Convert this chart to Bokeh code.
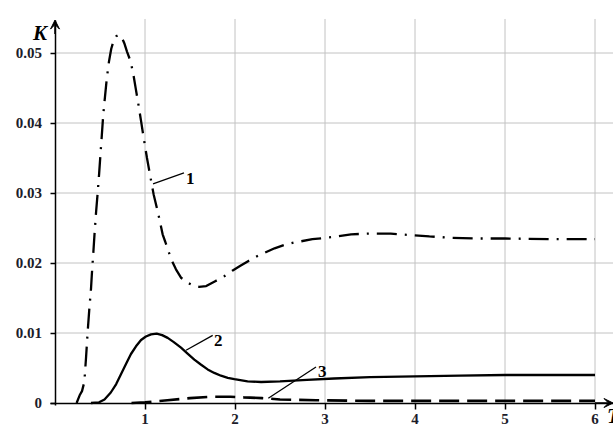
from bokeh.plotting import figure
from bokeh.models import Range1d, FixedTicker, Arrow, VeeHead, Label
from bokeh.embed import file_html
from bokeh.resources import INLINE

# ---- data ----
t1 = [0.24, 0.274, 0.30, 0.326, 0.345, 0.363, 0.38, 0.40, 0.41, 0.426, 0.44, 0.456, 0.474,
      0.49, 0.505, 0.52, 0.535, 0.555, 0.575, 0.60, 0.625, 0.65, 0.68, 0.71, 0.74, 0.77,
      0.80, 0.84, 0.87, 0.90, 0.93, 0.956, 0.985, 1.022, 1.06, 1.096, 1.148, 1.196, 1.226,
      1.26, 1.30, 1.344, 1.40, 1.485, 1.55, 1.60, 1.68, 1.78, 1.88, 1.97, 2.06, 2.15, 2.25,
      2.44, 2.55, 2.65, 2.86, 3.08, 3.29, 3.5, 3.73, 3.94, 4.16, 4.4, 4.7, 5.0, 5.5, 6.0]
k1 = [0.0, 0.0011, 0.0017, 0.0030, 0.0065, 0.0102, 0.0132, 0.0163, 0.0185, 0.0215, 0.0243,
      0.0272, 0.0300, 0.0327, 0.0355, 0.0382, 0.0410, 0.0437, 0.0463, 0.0488, 0.0506, 0.0517,
      0.0524, 0.0526, 0.0523, 0.0514, 0.0502, 0.0488, 0.0470, 0.0447, 0.0424, 0.0403, 0.0379,
      0.0350, 0.0323, 0.0298, 0.0270, 0.0241, 0.0230, 0.0217, 0.0203, 0.0191, 0.0179, 0.0171,
      0.0167, 0.0166, 0.0167, 0.0174, 0.0181, 0.0189, 0.0196, 0.0203, 0.0210, 0.0221, 0.0226,
      0.0229, 0.0234, 0.0237, 0.0241, 0.0242, 0.0242, 0.0240, 0.0238, 0.0236, 0.0235, 0.0235,
      0.0234, 0.0234]

t2 = [0.40, 0.49, 0.55, 0.62, 0.68, 0.733, 0.79, 0.844, 0.90, 0.956, 1.01, 1.067, 1.13, 1.19,
      1.252, 1.32, 1.40, 1.47, 1.548, 1.62, 1.696, 1.77, 1.844, 1.92, 1.993, 2.14, 2.29, 2.5,
      2.8, 3.1, 3.5, 4.0, 4.5, 5.0, 5.5, 6.0]
k2 = [0.0, 0.0001, 0.0005, 0.0015, 0.0027, 0.0041, 0.0056, 0.0070, 0.0081, 0.0090, 0.0095,
      0.0098, 0.0099, 0.0097, 0.0093, 0.0087, 0.0079, 0.0071, 0.0062, 0.0055, 0.0048, 0.0043,
      0.0039, 0.0036, 0.0034, 0.0031, 0.0030, 0.0031, 0.0033, 0.0035, 0.0037, 0.0038, 0.0039,
      0.0040, 0.0040, 0.0040]

t3 = [0.85, 1.0, 1.25, 1.5, 1.75, 1.95, 2.1, 2.3, 2.5, 2.9, 3.5, 4.0, 5.0, 6.0]
k3 = [0.0, 0.0001, 0.0004, 0.0007, 0.0009, 0.0009, 0.0008, 0.0007, 0.0005, 0.0004, 0.0003,
      0.0003, 0.0003, 0.0003]

x_ticks = [1, 2, 3, 4, 5, 6]
y_ticks = [0, 0.01, 0.02, 0.03, 0.04, 0.05]
y_tick_labels = ["0", "0.01", "0.02", "0.03", "0.04", "0.05"]

curve_names = ["1", "2", "3"]
name_x = [1.456, 1.767, 2.922]
name_y = [0.03214, 0.00886, 0.00457]
leader_x0 = [1.089, 1.456, 2.370]
leader_y0 = [0.03129, 0.00753, 0.00067]
leader_x1 = [1.433, 1.752, 2.900]
leader_y1 = [0.03286, 0.00967, 0.00514]

# plotted region of the chart (data units)
X_END = 6.2        # end of the T axis (arrow tip)
Y_TOP = 0.05486    # top of the grid / K axis
Y_ARROW = 0.0547

W, H = 613, 424
PX_X = 90.0        # pixels per unit of T
PX_Y = 7000.0      # pixels per unit of K
X0_PX, Y0_PX = 54.5, 402.5   # position of the origin on the canvas

SERIF = "Liberation Serif"
TICK_COLOR = "#1c1c2a"
GRID_COLOR = "#c2c2c2"

p = figure(width=W, height=H, output_backend="svg", toolbar_location=None,
           x_range=Range1d(-X0_PX / PX_X, (W - X0_PX) / PX_X),
           y_range=Range1d((Y0_PX - H) / PX_Y, Y0_PX / PX_Y),
           min_border_left=0, min_border_right=0, min_border_top=0, min_border_bottom=0)
p.outline_line_color = None
p.background_fill_color = "white"
p.border_fill_color = "white"
p.xgrid.visible = False
p.ygrid.visible = False

# grid (drawn only inside the quadrant, like the reference)
p.segment(x0=x_ticks, y0=[0] * len(x_ticks), x1=x_ticks, y1=[Y_TOP] * len(x_ticks),
          line_color=GRID_COLOR, line_width=1)
p.segment(x0=[0] * (len(y_ticks) - 1), y0=y_ticks[1:], x1=[X_END + 0.02] * (len(y_ticks) - 1),
          y1=y_ticks[1:], line_color=GRID_COLOR, line_width=1)

# axes crossing at the origin
xa = p.xaxis[0]
xa.fixed_location = 0
xa.bounds = (-0.05, X_END)
xa.ticker = FixedTicker(ticks=x_ticks)
xa.minor_tick_line_color = None
xa.major_tick_out = 6
xa.major_tick_in = 0
xa.major_tick_line_width = 1.5
xa.axis_line_width = 1.5
xa.axis_line_color = "black"
xa.major_tick_line_color = "black"
xa.major_label_standoff = 5
xa.major_label_text_font = SERIF
xa.major_label_text_font_style = "bold"
xa.major_label_text_font_size = "15px"
xa.major_label_text_color = TICK_COLOR

ya = p.yaxis[0]
ya.fixed_location = 0
ya.bounds = (-0.0003, Y_ARROW)
ya.ticker = FixedTicker(ticks=y_ticks)
ya.major_label_overrides = dict(zip(y_ticks, y_tick_labels))
ya.minor_tick_line_color = None
ya.major_tick_out = 5
ya.major_tick_in = 0
ya.major_tick_line_width = 1.5
ya.axis_line_width = 1.5
ya.axis_line_color = "black"
ya.major_tick_line_color = "black"
ya.major_label_standoff = 8
ya.major_label_text_font = SERIF
ya.major_label_text_font_style = "bold"
ya.major_label_text_font_size = "15px"
ya.major_label_text_color = TICK_COLOR

# curves
p.line(t1, k1, line_color="black", line_width=2.3, line_dash="20 8 2 8")
p.line(t2, k2, line_color="black", line_width=2.3)
p.line(t3, k3, line_color="black", line_width=2.6, line_dash="20 8")

# leader lines and curve numbers
p.segment(x0=leader_x0, y0=leader_y0, x1=leader_x1, y1=leader_y1,
          line_color="black", line_width=1.3)
for name, lx, ly in zip(curve_names, name_x, name_y):
    p.add_layout(Label(x=lx, y=ly, text=name, text_font=SERIF, text_font_style="bold",
                       text_font_size="17px", text_color="black",
                       text_align="left", text_baseline="alphabetic"))

# axis arrows
p.add_layout(Arrow(end=VeeHead(size=9, fill_color="black", line_color="black", line_width=1),
                   x_start=0, y_start=Y_ARROW - 0.002, x_end=0, y_end=Y_ARROW,
                   line_color="black", line_width=1.5))
p.add_layout(Arrow(end=VeeHead(size=9, fill_color="black", line_color="black", line_width=1),
                   x_start=X_END - 0.2, y_start=0, x_end=X_END, y_end=0,
                   line_color="black", line_width=1.5))

# axis names
p.add_layout(Label(x=-0.245, y=0.05286, text="K", text_font=SERIF,
                   text_font_style="bold italic", text_font_size="21px", text_color="black",
                   text_align="left", text_baseline="alphabetic"))
p.add_layout(Label(x=6.133, y=-0.00186, text="T", text_font=SERIF,
                   text_font_style="bold italic", text_font_size="21px", text_color="black",
                   text_align="left", text_baseline="alphabetic"))

open("out.html", "w").write(file_html(p, INLINE))
